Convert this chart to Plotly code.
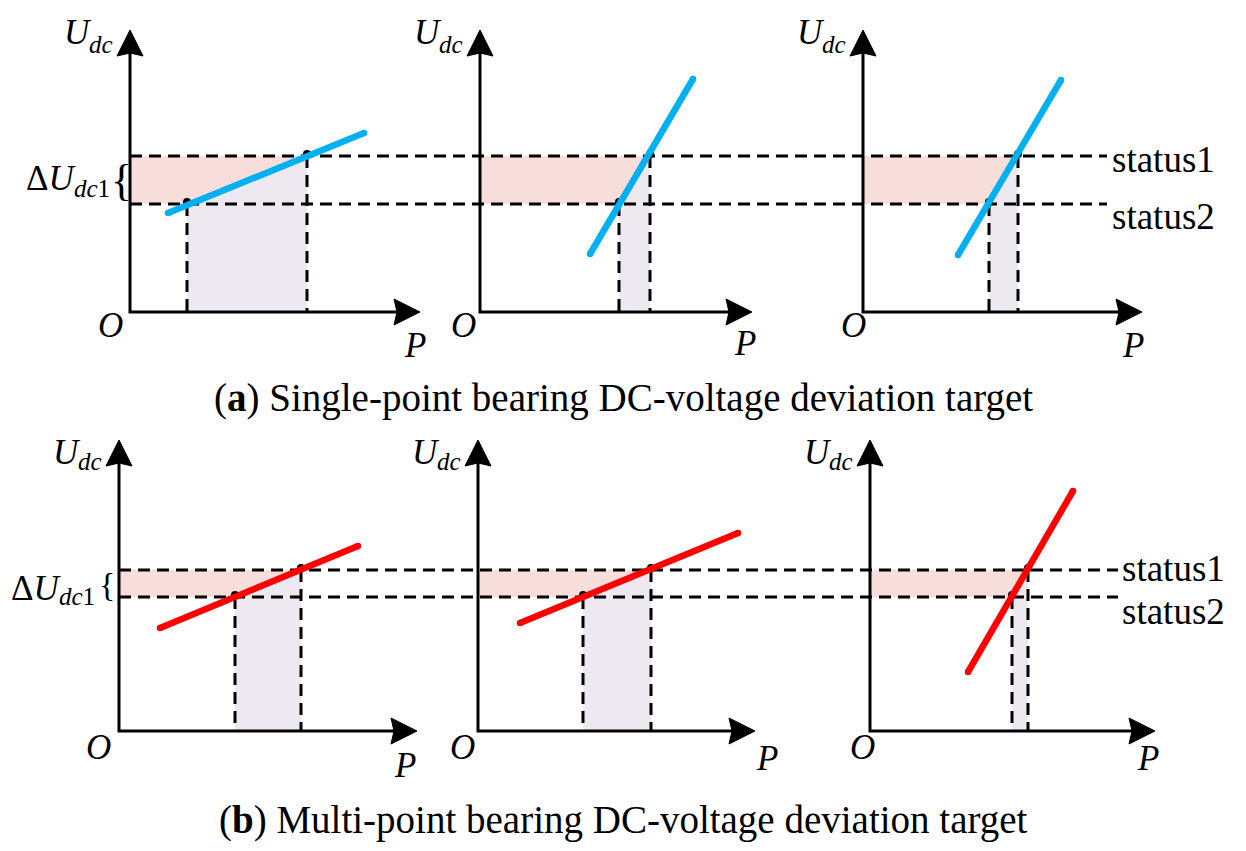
import plotly.graph_objects as go

# ---------------- data (per panel, local units: P to the right of the panel's U axis,
#                  U upward from the panel's P axis) ----------------
panel_row = [0, 0, 0, 1, 1, 1]
panel_origin = [130, 480, 863, 119, 478, 870]
status1_level = [156, 161]          # per row
status2_level = [108, 134]          # per row
p_at_status1 = [177, 170, 155, 182, 173, 158]
p_at_status2 = [57, 139, 126, 116, 105, 142]
curve_p_start = [38, 110, 95, 41, 42, 98]
curve_u_start = [99, 58, 57, 103, 108, 59]
curve_p_end = [234, 213, 198, 239, 260, 203]
curve_u_end = [179, 233, 232, 185, 198, 240]
p_axis_length = [290, 272, 279, 298, 277, 285]
u_axis_length = [282, 282, 282, 291, 291, 291]
status_line_stop = [1107, 1118]     # per row
status_labels = ["status1", "status2"]
captions = ["(<b>a</b>) Single-point bearing DC-voltage deviation target",
            "(<b>b</b>) Multi-point bearing DC-voltage deviation target"]

# ---------------- styles / layout ----------------
W, H = 1246, 851
FONT = "Liberation Serif"
curve_colors = ["#00B0F0", "#00B0F0", "#00B0F0", "#FF0000", "#FF0000", "#FF0000"]
PINK = "#F8DEDB"
LAVENDER = "#EEE8F0"
row_axis_px = [312, 731]
row_top_px = [0, 420]
row_bottom_px = [382, 851]
xr = ["x", "x2"]
yr = ["y", "y2"]
o_dx = [-20, -17, -10, -21, -16, -8]
o_dy = [-13, -13, -13, -16, -16, -16]
p_dx = [285, 265, 270, 286, 289, 278]
p_dy = [-33, -31, -33, -34, -27, -27]
udc_main_level = [280, 279]
udc_sub_level = [268, 270]
status_label_x = [1111, 1121]
status_label_dy = [[-3, -12], [2, -14]]
delta_split = [78, 63]
delta_main_level = [134, 143]
delta_sub_level = [124, 135]
brace_x = [110, 98]
brace_level = [132, 147]
brace_size = [44, 34]
HEAD_LEN, HEAD_HALF, HEAD_NOTCH = 26, 13, 3
DASH = dict(color="black", width=3, dash="12px,7px")
BIG, SMALL = 35, 25

fig = go.Figure()


def add(tr, r):
    tr.update(xaxis=xr[r], yaxis=yr[r], hoverinfo="skip")
    fig.add_trace(tr)


for k in range(6):
    r = panel_row[k]
    ox = panel_origin[k]
    s1, s2 = status1_level[r], status2_level[r]
    pl, ph = p_at_status2[k], p_at_status1[k]
    # pink band (above the curve, inside the status band)
    add(go.Scatter(x=[ox, ox, ox + ph, ox + pl, ox], y=[s2, s1, s1, s2, s2],
                   fill="toself", fillcolor=PINK, mode="none"), r)
    # lavender column (power range)
    add(go.Scatter(x=[ox + pl, ox + pl, ox + ph, ox + ph, ox + pl], y=[0, s2, s1, 0, 0],
                   fill="toself", fillcolor=LAVENDER, mode="none"), r)

# horizontal status lines
for r in range(2):
    for lvl in (status1_level[r], status2_level[r]):
        add(go.Scatter(x=[panel_origin[3 * r], status_line_stop[r]], y=[lvl, lvl],
                       mode="lines", line=DASH), r)

for k in range(6):
    r = panel_row[k]
    ox = panel_origin[k]
    s1, s2 = status1_level[r], status2_level[r]
    pl, ph = p_at_status2[k], p_at_status1[k]
    for p, lvl in ((pl, s2), (ph, s1)):
        add(go.Scatter(x=[ox + p, ox + p], y=[lvl, 0], mode="lines", line=DASH), r)
    add(go.Scatter(x=[ox + pl, ox + ph], y=[s2 + 2, s1 + 2], mode="markers",
                   marker=dict(color="black", size=8)), r)
    # characteristic curve
    add(go.Scatter(x=[ox + curve_p_start[k], ox + curve_p_end[k]],
                   y=[curve_u_start[k], curve_u_end[k]], mode="lines+markers",
                   line=dict(color=curve_colors[k], width=6.5),
                   marker=dict(color=curve_colors[k], size=6.5)), r)

    # axes with arrow heads
    ptip = ox + p_axis_length[k]
    utip = u_axis_length[k]
    add(go.Scatter(x=[ox, ox, ptip - HEAD_LEN + HEAD_NOTCH + 1],
                   y=[utip - HEAD_LEN + HEAD_NOTCH + 1, 0, 0],
                   mode="lines", line=dict(color="black", width=3)), r)
    add(go.Scatter(x=[ptip, ptip - HEAD_LEN, ptip - HEAD_LEN + HEAD_NOTCH, ptip - HEAD_LEN, ptip],
                   y=[0, HEAD_HALF, 0, -HEAD_HALF, 0], mode="lines", fill="toself",
                   fillcolor="black", line=dict(color="black", width=1)), r)
    add(go.Scatter(x=[ox, ox - HEAD_HALF, ox, ox + HEAD_HALF, ox],
                   y=[utip, utip - HEAD_LEN, utip - HEAD_LEN + HEAD_NOTCH, utip - HEAD_LEN, utip],
                   mode="lines", fill="toself", fillcolor="black",
                   line=dict(color="black", width=1)), r)


def txt(x, y, s, r, size, anchor="center"):
    return dict(x=x, y=y, xref=xr[r], yref=yr[r], text=s, showarrow=False,
                xanchor=anchor, yanchor="middle", borderpad=0,
                font=dict(family=FONT, size=size, color="black"))


annotations = []
for k in range(6):
    r = panel_row[k]
    ox = panel_origin[k]
    annotations.append(txt(ox - 37, udc_main_level[r], "<i>U</i>", r, BIG, "right"))
    annotations.append(txt(ox - 42, udc_sub_level[r], "<i>dc</i>", r, SMALL, "left"))
    annotations.append(txt(ox + o_dx[k], o_dy[k], "<i>O</i>", r, BIG))
    annotations.append(txt(ox + p_dx[k], p_dy[k], "<i>P</i>", r, BIG))

for r in range(2):
    for i, lvl in enumerate((status1_level[r], status2_level[r])):
        annotations.append(txt(status_label_x[r], lvl + status_label_dy[r][i],
                               status_labels[i], r, 37, "left"))
    annotations.append(txt(delta_split[r], delta_main_level[r], "Δ<i>U</i>", r, BIG, "right"))
    annotations.append(txt(delta_split[r] - 5, delta_sub_level[r], "<i>dc</i>1", r, SMALL, "left"))
    annotations.append(txt(brace_x[r], brace_level[r], "{", r, brace_size[r], "left"))

caption_y_px = [398, 820]
for r in range(2):
    annotations.append(dict(x=623 / W, y=1 - caption_y_px[r] / H, xref="paper", yref="paper",
                            text=captions[r], showarrow=False, xanchor="center", yanchor="middle",
                            font=dict(family=FONT, size=39, color="black")))

axis_common = dict(visible=False, showgrid=False, zeroline=False, fixedrange=True)
fig.update_layout(
    width=W, height=H, autosize=False,
    margin=dict(l=0, r=0, t=0, b=0, pad=0),
    paper_bgcolor="white", plot_bgcolor="rgba(0,0,0,0)",
    showlegend=False,
    xaxis=dict(domain=[0, 1], range=[0, W], anchor="y", **axis_common),
    yaxis=dict(domain=[1 - row_bottom_px[0] / H, 1 - row_top_px[0] / H],
               range=[row_axis_px[0] - row_bottom_px[0], row_axis_px[0] - row_top_px[0]],
               anchor="x", **axis_common),
    xaxis2=dict(domain=[0, 1], range=[0, W], anchor="y2", **axis_common),
    yaxis2=dict(domain=[1 - row_bottom_px[1] / H, 1 - row_top_px[1] / H],
                range=[row_axis_px[1] - row_bottom_px[1], row_axis_px[1] - row_top_px[1]],
                anchor="x2", **axis_common),
    annotations=annotations,
)

fig.write_html("out.html", config={"displayModeBar": False},
               post_script="document.body.style.margin='0';document.body.style.overflow='hidden';")
